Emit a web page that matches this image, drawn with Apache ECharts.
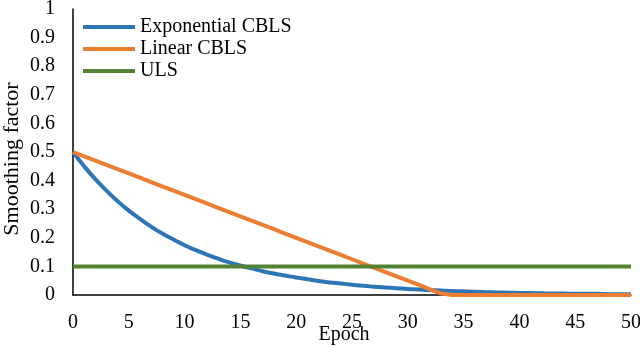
<!DOCTYPE html>
<html>
<head>
<meta charset="utf-8">
<script src="https://cdn.jsdelivr.net/npm/echarts@6/dist/echarts.min.js"></script>
<style>
  html, body { margin: 0; padding: 0; background: #fff; }
  #chart { width: 640px; height: 347px; }
</style>
</head>
<body>
<div id="chart"></div>
<script>
// epochs 0..50
const epochs = [0,1,2,3,4,5,6,7,8,9,10,11,12,13,14,15,16,17,18,19,20,21,22,23,24,25,
  26,27,28,29,30,31,32,33,34,35,36,37,38,39,40,41,42,43,44,45,46,47,48,49,50];
// Exponential CBLS
const expValues = [0.5,0.45,0.405,0.365,0.328,0.295,0.266,0.239,0.215,0.194,0.174,
  0.157,0.141,0.127,0.114,0.103,0.093,0.083,0.075,0.068,0.061,0.055,0.049,0.044,0.04,
  0.036,0.032,0.029,0.026,0.024,0.021,0.019,0.017,0.016,0.014,0.013,0.011,0.01,0.009,
  0.008,0.007,0.007,0.006,0.005,0.005,0.004,0.004,0.004,0.003,0.003,0.003];
// Linear CBLS
const linValues = [0.5,0.485,0.47,0.455,0.44,0.425,0.41,0.395,0.38,0.365,0.35,
  0.335,0.32,0.305,0.29,0.275,0.26,0.245,0.23,0.215,0.2,0.185,0.17,0.155,0.14,
  0.125,0.11,0.095,0.08,0.065,0.05,0.035,0.02,0.005,0,0,0,0,0,0,0,0,0,0,0,0,0,0,0,0,0];
// ULS (constant)
const ulsEpochs = [0, 50];
const ulsValues = [0.1, 0.1];

const seriesNames = ['Exponential CBLS', 'Linear CBLS', 'ULS'];
const colors = ['#2E75B6', '#ED7D31', '#548235'];

const font = 'Liberation Serif';
const chart = echarts.init(document.getElementById('chart'));

const pairs = (xs, ys) => xs.map((x, i) => [x, ys[i]]);

chart.setOption({
  animation: false,
  color: colors,
  textStyle: { fontFamily: font },
  grid: {
    left: 73, right: 9, top: 9, bottom: 52,
    containLabel: false, outerBoundsMode: 'none'
  },
  legend: {
    orient: 'vertical',
    left: 83, top: 17, padding: 0,
    itemWidth: 52, itemHeight: 4, itemGap: 2,
    icon: 'rect',
    textStyle: { fontFamily: font, fontSize: 20, color: '#000' },
    data: seriesNames
  },
  xAxis: {
    type: 'value', min: 0, max: 50, interval: 5,
    name: 'Epoch', nameLocation: 'middle', nameGap: 30, nameMoveOverlap: false,
    nameTextStyle: { fontFamily: font, fontSize: 20, color: '#000', padding: [0, 16, 0, 0] },
    axisLine: { show: true, lineStyle: { color: '#000', width: 1.5 } },
    axisTick: { show: false },
    splitLine: { show: false },
    axisLabel: { fontFamily: font, fontSize: 20, color: '#000', margin: 18 }
  },
  yAxis: {
    type: 'value', min: 0, max: 1, interval: 0.1,
    name: 'Smoothing factor', nameLocation: 'middle', nameGap: 50, nameRotate: 90,
    nameMoveOverlap: false,
    nameTextStyle: { fontFamily: font, fontSize: 22, color: '#000', padding: [0, 14, 0, 0] },
    axisLine: { show: true, lineStyle: { color: '#000', width: 1.5 } },
    axisTick: { show: false },
    splitLine: { show: false },
    axisLabel: { fontFamily: font, fontSize: 20, color: '#000', margin: 18 }
  },
  series: [
    { name: seriesNames[0], type: 'line', data: pairs(epochs, expValues),
      showSymbol: false, smooth: true, lineStyle: { width: 4 } },
    { name: seriesNames[1], type: 'line', data: pairs(epochs, linValues),
      showSymbol: false, lineStyle: { width: 4 } },
    { name: seriesNames[2], type: 'line', data: pairs(ulsEpochs, ulsValues),
      showSymbol: false, lineStyle: { width: 4 } }
  ]
});
</script>
</body>
</html>
